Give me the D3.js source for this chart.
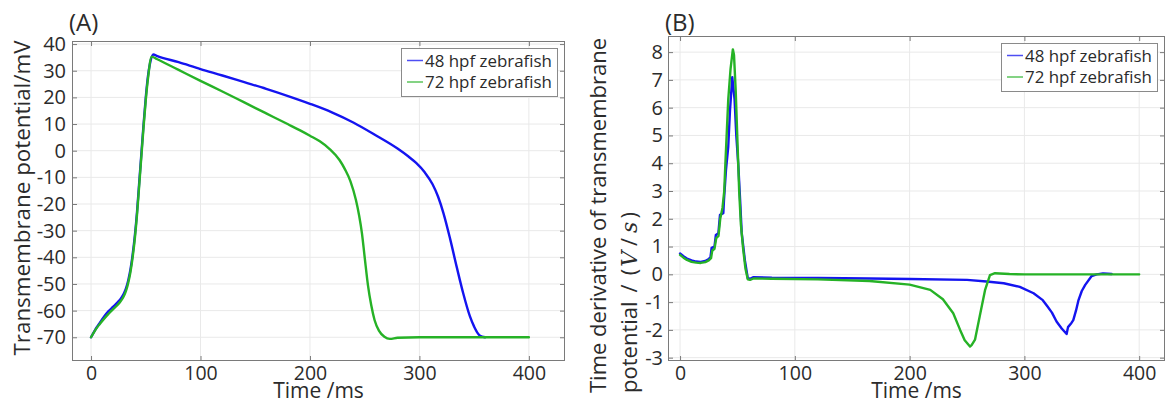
<!DOCTYPE html>
<html>
<head>
<meta charset="utf-8">
<script src="https://cdn.jsdelivr.net/npm/d3@7"></script>
<style>
  body { margin: 0; background: #fff; }
  svg { display: block; }
  text { font-family: "Open Sans", sans-serif; fill: #2b2b2b; }
</style>
</head>
<body>
<div id="chart"></div>
<script>
// ---- data ----
var seriesNames = [ "48 hpf zebrafish", "72 hpf zebrafish" ];
var seriesColors = [ "#1414f0", "#26b226" ];

var timeTicks = [ 0, 100, 200, 300, 400 ];
var potentialTicks = [ 40, 30, 20, 10, 0, -10, -20, -30, -40, -50, -60, -70 ];
var derivTicks = [ 8, 7, 6, 5, 4, 3, 2, 1, 0, -1, -2, -3 ];

// (A) transmembrane potential, mV
var tA48 = [ 0, 4, 8, 12, 16, 20, 24, 27, 30, 32, 34, 36, 38, 40, 42, 44, 46, 48, 50, 52, 54, 57,
  60, 80, 100, 120, 140, 160, 180, 200, 220, 240, 260, 280, 290, 297, 305, 312, 317, 322, 328, 334,
  340, 346, 350, 355, 360 ];
var vA48 = [ -70, -67, -64.6, -62.2, -60.2, -58.6, -57, -55.6, -53.6, -51.6, -48.6, -44.6, -39, -32,
  -23, -12, -1, 10, 20, 28, 33, 36.1,
  35.6, 33.2, 30.6, 28.2, 25.7, 23.2, 20.5, 17.6, 14.4, 10.5, 5.8, 0.8, -2.2, -4.6, -8.2, -12.6, -17.2,
  -23.5, -33, -43.5, -53.5, -62, -66, -69.3, -70 ];

var tA72 = [ 0, 4, 8, 12, 16, 20, 24, 27, 30, 32, 34, 36, 38, 40, 42, 44, 46, 48, 50, 52, 55.4,
  60, 80, 100, 120, 140, 160, 180, 191, 200, 209, 218, 227, 232, 237, 242, 245, 247.5, 250, 253, 256,
  259, 263, 268, 273, 280, 300, 400 ];
var vA72 = [ -70, -67.2, -65, -63, -61.2, -59.5, -58, -56.5, -54.5, -52.5, -49.5, -45.5, -40, -33,
  -24, -13, -2, 9, 19, 27, 35.3,
  34.4, 30.3, 26.2, 22.2, 18.1, 14, 9.9, 7.6, 5.6, 3.5, 0.6, -3.5, -7, -11.5, -18.5, -24.5, -31, -40,
  -50.5, -58, -63.5, -67.5, -69.8, -70.6, -70.2, -70, -70 ];

// (B) time derivative, V/s
var tB48 = [ 0, 3, 6, 10, 14, 18, 22, 25, 26.5, 27.5, 30, 31.2, 33.4, 34.8, 37.7, 38.3, 40, 42, 43.5,
  45.5, 47.5, 49, 50.8, 52.3, 53.7, 56.5, 59, 61, 64, 80, 120, 165, 200, 250, 267, 282, 296, 308,
  316, 320, 324, 328, 332.5, 336.8, 338, 341, 342.6, 345, 347, 350, 353, 358.6, 363, 368.5, 376 ];
var vB48 = [ 0.75, 0.65, 0.57, 0.5, 0.46, 0.45, 0.48, 0.55, 0.62, 0.95, 1.0, 1.42, 1.48, 2.14, 2.2,
  2.7, 3.75, 4.6, 5.9, 7.1, 6.3, 5.0, 3.9, 2.7, 1.5, 0.5, -0.14, -0.16, -0.1, -0.12, -0.13, -0.15,
  -0.17, -0.2, -0.26, -0.32, -0.45, -0.68, -0.93, -1.15, -1.38, -1.7, -1.95, -2.15, -1.9, -1.75,
  -1.65, -1.3, -0.95, -0.6, -0.38, -0.06, 0, 0.03, 0.01 ];

var tB72 = [ 0, 3, 6, 10, 14, 18, 22, 25, 27, 28, 30, 31.5, 33.5, 35, 37, 38.5, 39.5, 42, 44, 46, 47,
  48.5, 50, 51.5, 53, 55, 57, 59, 61, 64, 80, 120, 165, 200, 218, 229, 238, 244, 248, 252.6, 254,
  257, 261, 265.7, 270, 274.4, 287, 300, 400 ];
var vB72 = [ 0.7, 0.6, 0.52, 0.45, 0.42, 0.41, 0.44, 0.5, 0.58, 0.85, 0.92, 1.3, 1.38, 2.0, 2.4, 3.0,
  4.0, 6.3, 7.4, 8.1, 7.9, 6.6, 4.8, 3.0, 1.8, 0.9, 0.2, -0.18, -0.2, -0.15, -0.16, -0.18, -0.24,
  -0.37, -0.56, -0.9, -1.4, -2.0, -2.37, -2.6, -2.55, -2.35, -1.53, -0.57, -0.03, 0.04, 0.01, 0, 0 ];

// ---- drawing ----
var svg = d3.select( "#chart" ).append( "svg" )
  .attr( "width", 1168 ).attr( "height", 403 );

function zip( ts, vs ) {
  return ts.map( function( t, i ) { return [ t, vs[ i ] ]; } );
}

function drawPanel( o ) {
  var g = svg.append( "g" ).attr( "class", "panel" );
  var x = d3.scaleLinear().domain( o.xDomain ).range( [ o.left, o.right ] );
  var y = d3.scaleLinear().domain( o.yDomain ).range( [ o.bottom, o.top ] );

  // grid
  g.append( "g" ).selectAll( "line.gx" ).data( timeTicks ).enter().append( "line" )
    .attr( "x1", x ).attr( "x2", x ).attr( "y1", o.top ).attr( "y2", o.bottom )
    .attr( "stroke", "#e9e9e9" ).attr( "stroke-width", 1 );
  g.append( "g" ).selectAll( "line.gy" ).data( o.yTicks ).enter().append( "line" )
    .attr( "y1", y ).attr( "y2", y ).attr( "x1", o.left ).attr( "x2", o.right )
    .attr( "stroke", "#e9e9e9" ).attr( "stroke-width", 1 );

  // axes with inward ticks on all four sides
  var tickStyle = function( sel ) {
    sel.select( ".domain" ).remove();
    sel.selectAll( ".tick line" ).attr( "stroke", "#7a7a7a" );
  };
  var bottom = g.append( "g" ).attr( "transform", "translate(0," + o.bottom + ")" )
    .call( d3.axisBottom( x ).tickValues( timeTicks ).tickSizeInner( -5 ).tickSizeOuter( 0 ).tickPadding( 0 ) );
  tickStyle( bottom );
  bottom.selectAll( "text" ).attr( "y", 0 ).attr( "dy", 19 ).style( "font-size", "19.5px" ).attr( "fill", "#2b2b2b" );
  var top = g.append( "g" ).attr( "transform", "translate(0," + o.top + ")" )
    .call( d3.axisTop( x ).tickValues( timeTicks ).tickSizeInner( -5 ).tickSizeOuter( 0 ).tickFormat( "" ) );
  tickStyle( top );
  var left = g.append( "g" ).attr( "transform", "translate(" + o.left + ",0)" )
    .call( d3.axisLeft( y ).tickValues( o.yTicks ).tickSizeInner( -5 ).tickSizeOuter( 0 ).tickPadding( 0 )
      .tickFormat( function( d ) { return d < 0 ? "-" + Math.abs( d ) : d; } ) );
  tickStyle( left );
  left.selectAll( "text" ).attr( "x", -o.labelGap ).style( "font-size", "20px" ).attr( "fill", "#2b2b2b" );
  var right = g.append( "g" ).attr( "transform", "translate(" + o.right + ",0)" )
    .call( d3.axisRight( y ).tickValues( o.yTicks ).tickSizeInner( -5 ).tickSizeOuter( 0 ).tickFormat( "" ) );
  tickStyle( right );

  // frame
  g.append( "rect" ).attr( "x", o.left + 0.5 ).attr( "y", o.top + 0.5 )
    .attr( "width", o.right - o.left - 1 ).attr( "height", o.bottom - o.top - 1 )
    .attr( "fill", "none" ).attr( "stroke", "#7a7a7a" ).attr( "stroke-width", 1 );

  // curves
  var line = d3.line().x( function( d ) { return x( d[ 0 ] ); } ).y( function( d ) { return y( d[ 1 ] ); } )
    .curve( o.curve );
  o.series.forEach( function( s, i ) {
    g.append( "path" ).datum( s ).attr( "d", line )
      .attr( "fill", "none" ).attr( "stroke", seriesColors[ i ] ).attr( "stroke-width", 2.4 )
      .attr( "stroke-linejoin", "round" ).attr( "stroke-linecap", "round" );
  } );

  // legend
  var lw = 156, lh = 48;
  var lg = g.append( "g" ).attr( "transform", "translate(" + ( o.right - 8 - lw ) + "," + ( o.top + 7 ) + ")" );
  lg.append( "rect" ).attr( "x", 0.5 ).attr( "y", 0.5 ).attr( "width", lw ).attr( "height", lh )
    .attr( "fill", "#fff" ).attr( "stroke", "#8a8a8a" ).attr( "stroke-width", 1 );
  seriesNames.forEach( function( name, i ) {
    var yy = 12.5 + i * 21.5;
    lg.append( "line" ).attr( "x1", 6 ).attr( "x2", 22 ).attr( "y1", yy ).attr( "y2", yy )
      .attr( "stroke", seriesColors[ i ] ).attr( "stroke-width", 1.5 ).attr( "opacity", 0.75 );
    lg.append( "text" ).attr( "x", 24 ).attr( "y", yy + 6 ).style( "font-size", "16.5px" )
      .attr( "textLength", 127 ).attr( "lengthAdjust", "spacingAndGlyphs" ).text( name );
  } );

  // panel letter and x title
  g.append( "text" ).attr( "x", o.left - 3 ).attr( "y", 31 ).style( "font-size", "24px" ).text( o.letter );
  g.append( "text" ).attr( "x", ( o.left + o.right ) / 2 ).attr( "y", 398 ).attr( "text-anchor", "middle" )
    .style( "font-size", "21px" ).text( "Time /ms" );
  return g;
}

drawPanel( {
  letter: "(A)", left: 72, right: 565, top: 41, bottom: 361,
  xDomain: [ -17.4, 433 ], yDomain: [ -78.9, 41.15 ], yTicks: potentialTicks, labelGap: 6,
  curve: d3.curveMonotoneX,
  series: [ zip( tA48, vA48 ), zip( tA72, vA72 ) ]
} );

drawPanel( {
  letter: "(B)", left: 668, right: 1165, top: 36, bottom: 361,
  xDomain: [ -10.5, 422.5 ], yDomain: [ -3.12, 8.58 ], yTicks: derivTicks, labelGap: 5,
  curve: d3.curveLinear,
  series: [ zip( tB48, vB48 ), zip( tB72, vB72 ) ]
} );

// y titles
svg.append( "text" ).attr( "transform", "translate(30,198) rotate(-90)" ).attr( "text-anchor", "middle" )
  .style( "font-size", "22px" ).attr( "textLength", 315 ).attr( "lengthAdjust", "spacingAndGlyphs" )
  .text( "Transmembrane potential/mV" );
svg.append( "text" ).attr( "transform", "translate(606,393) rotate(-90)" )
  .style( "font-size", "22px" ).attr( "textLength", 355 ).attr( "lengthAdjust", "spacingAndGlyphs" )
  .text( "Time derivative of transmembrane" );
var l2 = svg.append( "text" ).attr( "transform", "translate(637,393) rotate(-90)" )
  .style( "font-size", "22px" );
l2.append( "tspan" ).text( "potential" );
l2.append( "tspan" ).attr( "dx", 9 ).text( "/" );
l2.append( "tspan" ).attr( "dx", 9 ).text( "(" );
l2.append( "tspan" ).attr( "dx", 2 ).style( "font-family", "'DejaVu Serif', serif" ).style( "font-style", "italic" ).text( "V" );
l2.append( "tspan" ).attr( "dx", 5 ).text( "/" );
l2.append( "tspan" ).attr( "dx", 5 ).style( "font-family", "'DejaVu Serif', serif" ).style( "font-style", "italic" ).text( "s" );
l2.append( "tspan" ).attr( "dx", 3 ).text( ")" );
</script>
</body>
</html>
